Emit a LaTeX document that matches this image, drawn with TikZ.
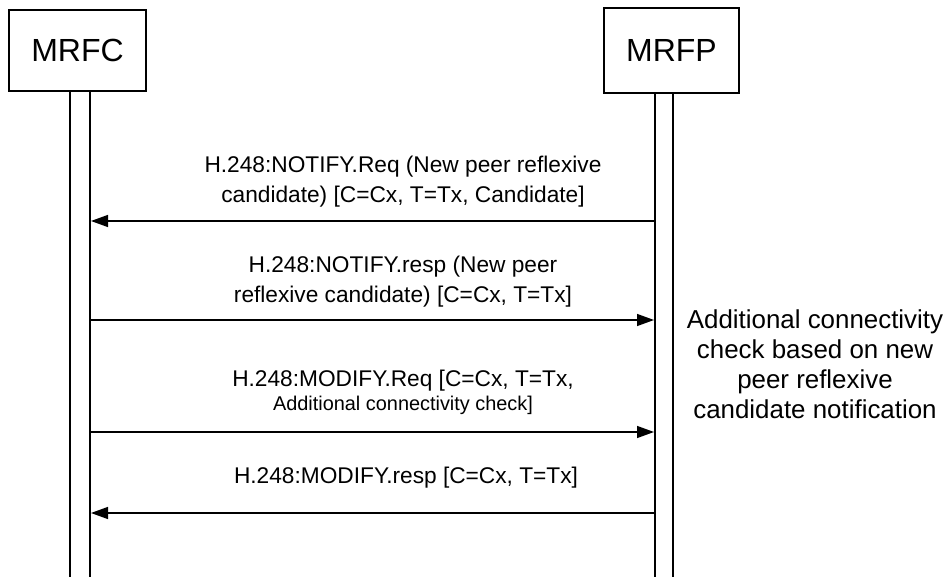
\documentclass[tikz,border=0pt]{standalone}
\usepackage{fontspec}
\setmainfont{Liberation Sans}
\usetikzlibrary{arrows.meta}
\begin{document}
\begin{tikzpicture}[x=1pt,y=-1pt,
  entity/.style={draw,line width=1.4pt,inner sep=0pt,font=\fontsize{32}{36}\selectfont},
  life/.style={line width=1.4pt},
  msg/.style={line width=1.4pt,-{Triangle[length=17pt,width=12pt]}},
  lbl/.style={align=center,inner sep=0pt,font=\fontsize{22.7}{30}\selectfont,anchor=base},
  note/.style={align=center,inner sep=0pt,font=\fontsize{25.9}{30}\selectfont,anchor=base}]
\useasboundingbox (0,0) rectangle (945,577);
% entities
\node[entity,minimum width=137pt,minimum height=81pt] (mrfc) at (77.5,50.5) {MRFC};
\node[entity,minimum width=135pt,minimum height=85pt] (mrfp) at (671.5,50.5) {MRFP};
% lifelines
\coordinate (l1t) at (70,91); \coordinate (l1b) at (70,577);
\coordinate (l2t) at (90,91); \coordinate (l2b) at (90,577);
\coordinate (r1t) at (655,93); \coordinate (r1b) at (655,577);
\coordinate (r2t) at (673,93); \coordinate (r2b) at (673,577);
\draw[life] (l1t) -- (l1b);
\draw[life] (l2t) -- (l2b);
\draw[life] (r1t) -- (r1b);
\draw[life] (r2t) -- (r2b);
% message end points
\coordinate (m1s) at (655,221); \coordinate (m1e) at (91,221);
\coordinate (m2s) at (90,320);  \coordinate (m2e) at (654,320);
\coordinate (m3s) at (90,432);  \coordinate (m3e) at (654,432);
\coordinate (m4s) at (655,513); \coordinate (m4e) at (91,513);
\draw[msg] (m1s) -- (m1e);
\draw[msg] (m2s) -- (m2e);
\draw[msg] (m3s) -- (m3e);
\draw[msg] (m4s) -- (m4e);
% labels (base anchor = baseline of last line)
\node[lbl] (t1) at (403,203) {H.248:NOTIFY.Req (New peer reflexive\\candidate) [C=Cx, T=Tx, Candidate]};
\node[lbl] (t2) at (403,302) {H.248:NOTIFY.resp (New peer\\reflexive candidate) [C=Cx, T=Tx]};
\node[lbl] (t3) at (403,410) {H.248:MODIFY.Req [C=Cx, T=Tx,\\[-6pt]{\fontsize{19.9}{24}\selectfont Additional connectivity check]}};
\node[lbl] (t4) at (406,483) {H.248:MODIFY.resp [C=Cx, T=Tx]};
\node[note] (n1) at (815,418) {Additional connectivity\\check based on new\\peer reflexive\\candidate notification};
\end{tikzpicture}
\end{document}
